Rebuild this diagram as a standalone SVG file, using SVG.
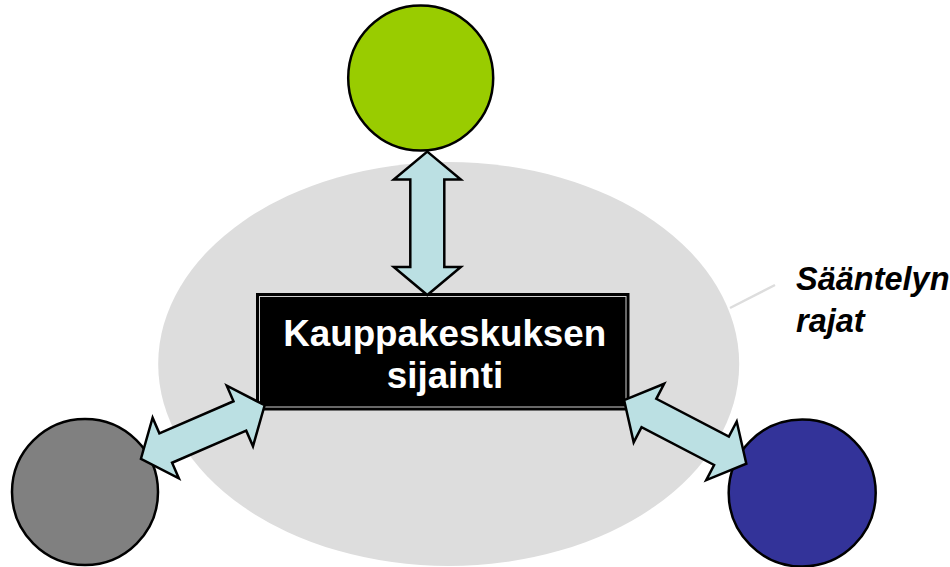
<svg xmlns="http://www.w3.org/2000/svg" width="950" height="567" viewBox="0 0 950 567">
  <style>
    .circ { stroke: #000; stroke-width: 2.5; }
    .arrow { fill: #BBE0E3; stroke: #000; stroke-width: 2.5; stroke-linejoin: miter; }
    .main { font-family: "Liberation Sans", Arial, sans-serif; font-weight: bold; font-size: 36.8px; fill: #fff; text-anchor: middle; }
    .lbl { font-family: "Liberation Sans", Arial, sans-serif; font-weight: bold; font-style: italic; font-size: 32.5px; fill: #000; }
  </style>
  <rect width="950" height="567" fill="#fff"/>
  <g id="boundary">
    <ellipse cx="448.7" cy="364" rx="290.5" ry="202" fill="#DDDDDD"/>
    <line x1="730" y1="308" x2="775" y2="285" stroke="#DDDDDD" stroke-width="2.5"/>
    <text class="lbl" x="796" y="290">Sääntelyn</text>
    <text class="lbl" x="796" y="332">rajat</text>
  </g>
  <g id="node-top">
    <circle class="circ" cx="420.7" cy="78" r="72.5" fill="#99CC00"/>
  </g>
  <g id="node-left">
    <circle class="circ" cx="85" cy="492" r="73" fill="#808080"/>
  </g>
  <g id="node-right">
    <circle class="circ" cx="802.2" cy="493" r="73.5" fill="#333399"/>
  </g>
  <g id="node-center">
    <rect x="256.5" y="293.5" width="372.5" height="116.5" fill="#000" stroke="#000" stroke-width="1"/>
    <rect x="259.5" y="296.5" width="366.5" height="110.5" fill="none" stroke="#CFCFCF" stroke-width="1"/>
    <text class="main" x="444.7" y="346">Kauppakeskuksen</text>
    <text class="main" x="445" y="388">sijainti</text>
  </g>
  <g id="connectors">
    <path class="arrow" transform="translate(427.3,223.3) rotate(90)" d="M -71.7,0 L -43.7,-33.5 L -43.7,-17 L 43.7,-17 L 43.7,-33.5 L 71.7,0 L 43.7,33.5 L 43.7,17 L -43.7,17 L -43.7,33.5 Z"/>
    <path class="arrow" transform="translate(202.8,432) rotate(-23.4)" d="M -67.4,0 L -40.4,-33 L -40.4,-16 L 40.4,-16 L 40.4,-33 L 67.4,0 L 40.4,33 L 40.4,16 L -40.4,16 L -40.4,33 Z"/>
    <path class="arrow" transform="translate(685.2,431.9) rotate(27.5)" d="M -68.9,0 L -40.9,-33 L -40.9,-16 L 40.9,-16 L 40.9,-33 L 68.9,0 L 40.9,33 L 40.9,16 L -40.9,16 L -40.9,33 Z"/>
  </g>
</svg>
